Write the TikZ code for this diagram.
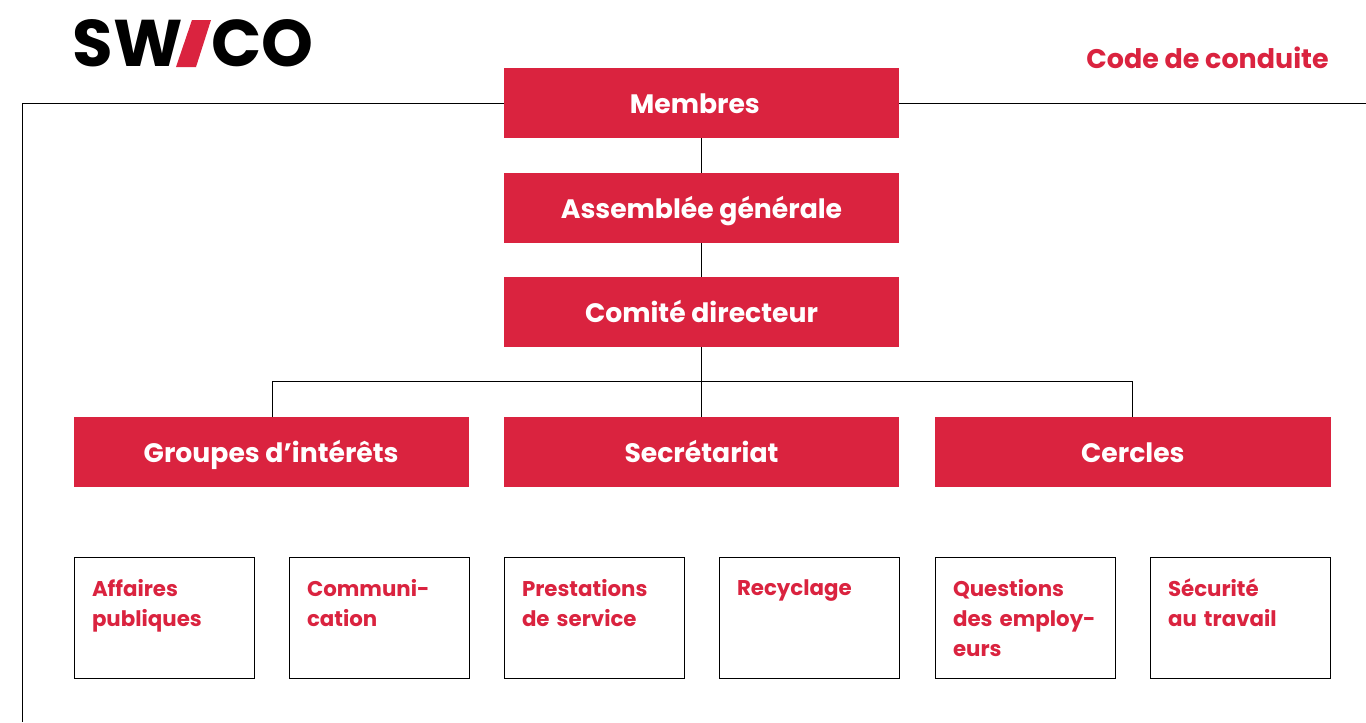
\documentclass[tikz,border=0pt]{standalone}
\usepackage{fontspec}
\setmainfont{Poppins}
\usepackage{xcolor}
\usetikzlibrary{positioning}
\definecolor{swicored}{HTML}{DA233F}
\tikzstyle{headbox} = [rectangle, minimum width=296.5pt, minimum height=52.5pt, inner sep=0pt, outer sep=0pt, text height=18.5pt, text depth=3pt, text centered, fill=swicored, text=white, font=\fontsize{20pt}{24pt}\selectfont\bfseries]
\tikzstyle{subbox} = [rectangle, minimum width=135pt, minimum height=90.75pt, inner sep=0pt, outer sep=0pt, text width=108pt, align=left, draw=black, line width=0.75pt, text=swicored, font=\fontsize{16pt}{22.5pt}\selectfont\bfseries]
\tikzstyle{wire} = [line width=0.75pt, black]

\begin{document}
\begin{tikzpicture}[x=0.75pt, y=-0.75pt, node distance=26pt]
        \useasboundingbox (0,0) rectangle (1366,722);

        % Logo
        \node (logosw) [anchor=east, inner sep=0pt, font=\fontsize{49.5pt}{49.5pt}\selectfont\bfseries] at (183,43.5) {SW};
        \node (logoco) [anchor=west, inner sep=0pt, font=\fontsize{49.5pt}{49.5pt}\selectfont\bfseries] at (211,43.5) {CO};
        \fill [swicored] (176,67) -- (192,20) -- (211,20) -- (196,67) -- cycle;

        % Title
        \node (title) [anchor=east, inner sep=0pt, text=swicored, font=\fontsize{20.2pt}{24pt}\selectfont\bfseries] at (1329,58) {Code de conduite};

        % Top column
        \node (membres) [headbox] at (701.5,103) {\hspace*{-10pt}Membres};
        \node (assemblee) [headbox, below=of membres] {Assemblée générale};
        \node (comite) [headbox, below=of assemblee] {Comité directeur};

        % Middle row
        \node (secretariat) [headbox, below=52.5pt of comite] {Secrétariat};
        \node (groupes) [headbox, left=26.25pt of secretariat] {Groupes d’intérêts};
        \node (cercles) [headbox, right=27pt of secretariat] {Cercles};

        % Lower boxes
        \node (affaires) [subbox] at (164,617.7) {Affaires\\publiques\\~};
        \node (communication) [subbox, right=26.25pt of affaires] {Communi-\\cation\\~};
        \node (prestations) [subbox, right=26.25pt of communication] {Prestations\\de service\\~};
        \node (recyclage) [subbox, right=26.25pt of prestations] {Recyclage\\~\\~};
        \node (questions) [subbox, right=27pt of recyclage] {Questions\\des~employ-\\eurs};
        \node (securite) [subbox, right=26.25pt of questions] {Sécurité\\au travail\\~};

        % Helper points
        \coordinate (frameleft) at (22,103);
        \coordinate (framedown) at (22,722);
        \coordinate (frameright) at (1366,103);
        \coordinate (branchl) at (272,381);
        \coordinate (branchr) at (1132,381);

        % Lines
        \draw [wire] (membres.west) -- (frameleft) -- (framedown);
        \draw [wire] (membres.east) -- (frameright);
        \draw [wire] (membres) -- (assemblee);
        \draw [wire] (assemblee) -- (comite);
        \draw [wire] (comite) -- (secretariat);
        \draw [wire] (branchl |- groupes.north) -- (branchl) -- (branchr) -- (branchr |- cercles.north);

\end{tikzpicture}
\end{document}
